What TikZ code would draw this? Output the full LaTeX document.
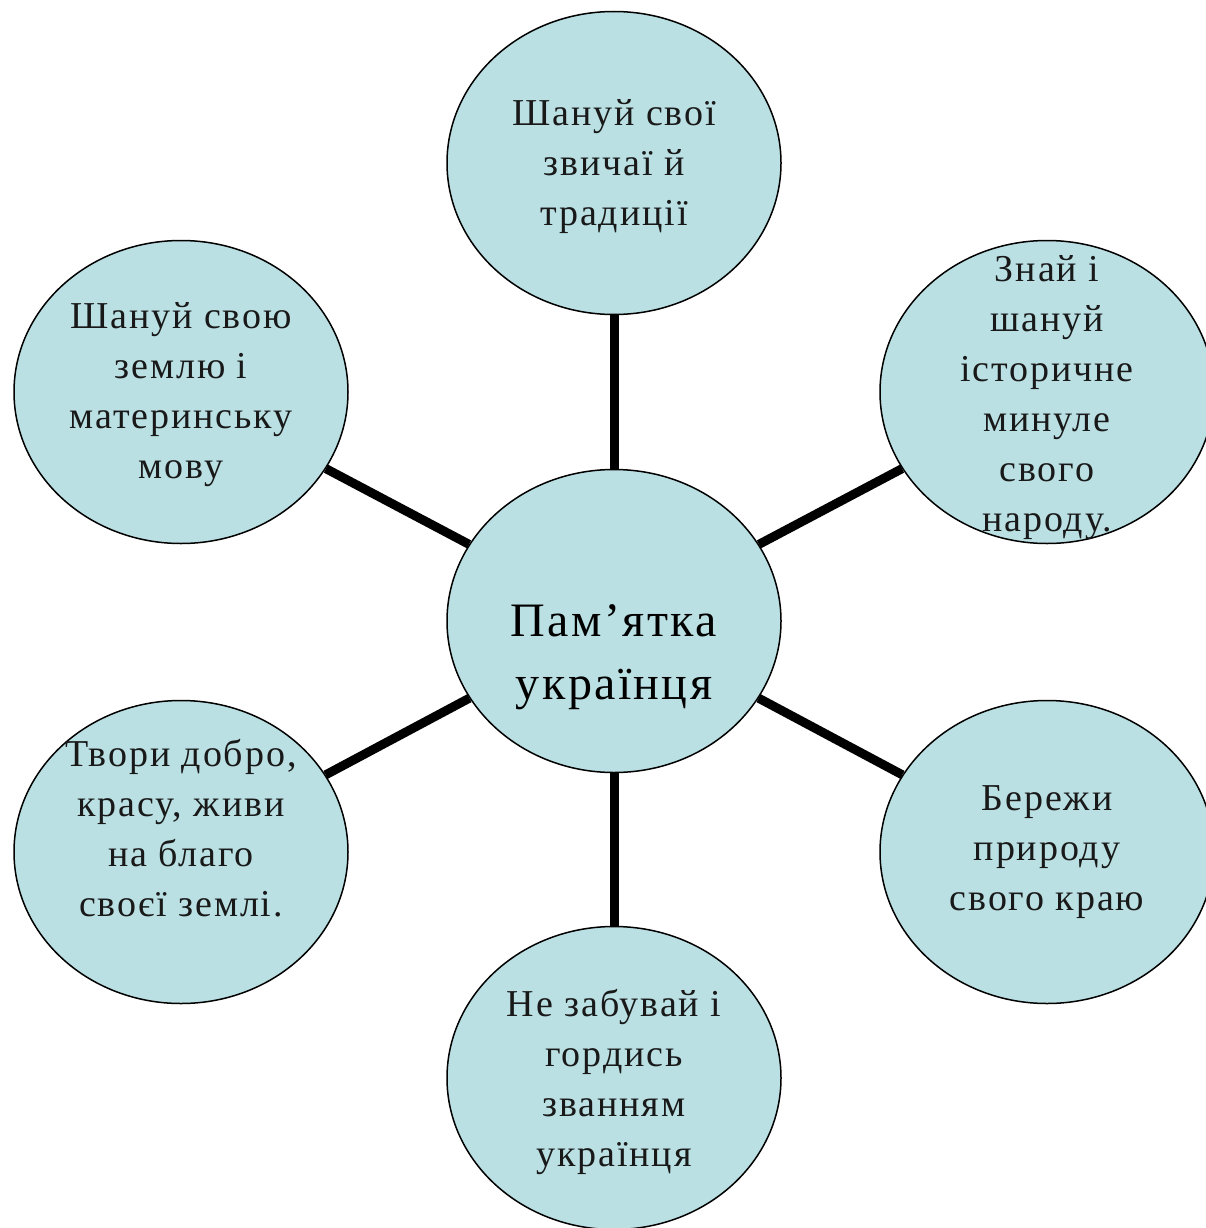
\documentclass[tikz,border=0pt]{standalone}
\usepackage{fontspec}
\setmainfont[LetterSpace=5]{Liberation Serif}
\usetikzlibrary{shapes.geometric}
\definecolor{bubble}{RGB}{186,224,227}
\definecolor{ink}{RGB}{25,25,25}
\tikzset{
  bub/.style={ellipse, draw=black, line width=1.5pt, fill=bubble, minimum width=334pt, minimum height=303pt, inner sep=0pt},
  txt/.style={align=center, inner sep=0pt, text=ink, font=\fontsize{38}{50}\selectfont},
  bigtxt/.style={align=center, inner sep=0pt, text=black, font=\fontsize{48}{63}\selectfont},
  conn/.style={line width=9pt, black}
}
\begin{document}
\begin{tikzpicture}[x=1pt, y=-1pt]
\useasboundingbox (0,0) rectangle (1206,1228);
\clip (0,0) rectangle (1206,1228);
\node[bub] (c)  at (614,621) {};
\node[bub] (t)  at (614,163) {};
\node[bub] (ul) at (181,392) {};
\node[bub] (ur) at (1047,392) {};
\node[bub] (ll) at (181,852) {};
\node[bub] (lr) at (1047,852) {};
\node[bub] (b)  at (614,1078) {};
\draw[conn] (c) -- (t);
\draw[conn] (c) -- (ul);
\draw[conn] (c) -- (ur);
\draw[conn] (c) -- (ll);
\draw[conn] (c) -- (lr);
\draw[conn] (c) -- (b);
\node[bigtxt] (ct)  at (614,657) {Пам’ятка\\українця};
\node[txt] (tt)  at (614,167) {Шануй свої\\звичаї й\\традиції};
\node[txt] (ult) at (181,395) {Шануй свою\\землю і\\материнську\\мову};
\node[txt] (urt) at (1047,398) {Знай і\\шануй\\історичне\\минуле\\свого\\народу.};
\node[txt] (llt) at (181,828) {Твори добро,\\красу, живи\\на благо\\своєї землі.};
\node[txt] (lrt) at (1047,852) {Бережи\\природу\\свого краю};
\node[txt] (bt)  at (614,1082) {Не забувай і\\гордись\\званням\\українця};
\end{tikzpicture}
\end{document}
